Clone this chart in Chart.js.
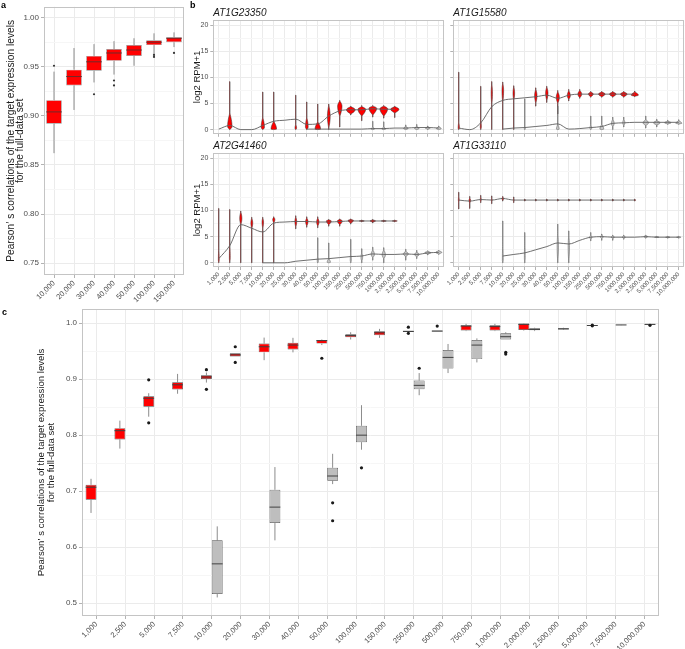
<!DOCTYPE html>
<html>
<head>
<meta charset="utf-8">
<script src="https://cdn.jsdelivr.net/npm/chart.js@4.4.1/dist/chart.umd.min.js"></script>
<style>
html, body { margin: 0; padding: 0; background: #fff; }
#fig { position: relative; width: 685px; height: 649px; overflow: hidden; font-family: "Liberation Sans", Arial, sans-serif; }
#fig canvas { position: absolute; }
.plab { position: absolute; font-weight: bold; font-size: 9px; line-height: 9px; color: #000; }
</style>
</head>
<body>
<div id="fig">
    <canvas id="ca" width="190" height="310" style="left:0;top:0"></canvas>
    <canvas id="cb1" width="256" height="140" style="left:190px;top:0"></canvas>
    <canvas id="cb2" width="245" height="140" style="left:440px;top:0"></canvas>
    <canvas id="cb3" width="256" height="167" style="left:190px;top:133px"></canvas>
    <canvas id="cb4" width="245" height="167" style="left:440px;top:133px"></canvas>
    <canvas id="cc" width="685" height="349" style="left:0;top:300px"></canvas>
    <div class="plab" style="left:1px;top:1px">a</div>
    <div class="plab" style="left:190px;top:1px">b</div>
    <div class="plab" style="left:2px;top:308px">c</div>
</div>
<script>
/* ==========================================================================
   Read depth vs. correlation figure — panels a (boxplot), b (violins), c (boxplot)
   ========================================================================== */

var n = null;

// ---- panel a : red boxes per read depth ----
var aLabels = ["10,000", "20,000", "30,000", "40,000", "50,000", "100,000", "150,000"];
var aQ1  = [0.892, 0.931, 0.946, 0.956, 0.961, 0.972, 0.975];
var aQ3  = [0.916, 0.947, 0.961, 0.968, 0.972, 0.977, 0.980];
var aMed = [0.904, 0.940, 0.955, 0.964, 0.967, 0.975, 0.979];
var aLo  = [0.862, 0.906, 0.934, 0.942, 0.951, 0.963, 0.970];
var aHi  = [0.945, 0.969, 0.973, 0.976, 0.979, 0.984, 0.985];
var aOut = [[0.951], [], [0.922], [0.936, 0.931], [], [0.962, 0.960], [0.964]];
var aTicks = [0.75, 0.80, 0.85, 0.90, 0.95, 1.00];

// ---- panel c : red vs grey boxes ----
var cLabels = ["1,000", "2,500", "5,000", "7,500", "10,000", "20,000", "30,000", "40,000", "50,000", "100,000",
    "150,000", "250,000", "500,000", "750,000", "1,000,000", "2,000,000", "2,500,000", "5,000,000", "7,500,000", "10,000,000"];
var cRedQ1  = [0.6845, 0.7923, 0.851, 0.8815, 0.9006, 0.9405, 0.948, 0.953, 0.9637, 0.975, 0.9786, 0.9845, 0.9851, 0.987, 0.987, 0.988, n, n, n, n];
var cRedQ3  = [0.7113, 0.8125, 0.8696, 0.8946, 0.907, 0.9464, 0.9637, 0.965, 0.970, 0.9804, 0.9857, 0.9865, 0.9869, 0.9964, 0.9964, 0.9994, n, n, n, n];
var cRedMed = [0.707, 0.808, 0.866, 0.890, 0.904, 0.9435, 0.958, 0.961, 0.969, 0.978, 0.983, 0.9855, 0.986, 0.995, 0.994, 0.998, n, n, n, n];
var cRedLo  = [0.661, 0.776, 0.833, 0.874, 0.894, 0.9405, 0.934, 0.948, 0.961, 0.971, 0.974, 0.9845, 0.9851, 0.986, 0.986, 0.987, n, n, n, n];
var cRedHi  = [0.722, 0.826, 0.875, 0.9095, 0.912, 0.9464, 0.9744, 0.974, 0.971, 0.984, 0.990, 0.9865, 0.9869, 0.999, 0.999, 1.000, n, n, n, n];
var cRedOut = [[], [], [0.899, 0.822], [], [0.917, 0.882], [0.958, 0.930], [], [], [0.9375], [], [], [0.993, 0.982], [0.995], [], [], [], [], [], [], []];

var cGreyQ1  = [n, n, n, n, 0.516, n, 0.6429, n, 0.7185, 0.7875, n, 0.882, 0.919, 0.936, 0.971, 0.9875, 0.989, 0.995, 0.9968, 0.9975];
var cGreyQ3  = [n, n, n, n, 0.612, n, 0.7024, n, 0.7417, 0.8167, n, 0.8976, 0.952, 0.970, 0.982, 0.991, 0.991, 0.997, 0.9972, 0.9985];
var cGreyMed = [n, n, n, n, 0.570, n, 0.6714, n, 0.727, 0.800, n, 0.889, 0.939, 0.961, 0.976, 0.989, 0.990, 0.996, 0.997, 0.998];
var cGreyLo  = [n, n, n, n, 0.510, n, 0.612, n, 0.7125, 0.774, n, 0.8714, 0.911, 0.930, 0.971, 0.986, 0.988, 0.994, 0.9965, 0.997];
var cGreyHi  = [n, n, n, n, 0.637, n, 0.743, n, 0.7667, 0.8536, n, 0.911, 0.963, 0.973, 0.984, 0.992, 0.992, 0.998, 0.9975, 0.999];
var cGreyOut = [[], [], [], [], [], [], [], [], [0.679, 0.647], [0.7417], [], [0.9196], [], [], [0.948, 0.945], [], [], [0.9968, 0.9955], [], [0.9964]];
var cTicks = [0.5, 0.6, 0.7, 0.8, 0.9, 1.0];

// ---- panel b : expression per read depth, four genes ----
var bLabels = ["1,000", "2,500", "5,000", "7,500", "10,000", "20,000", "25,000", "30,000", "40,000", "50,000", "100,000",
    "150,000", "250,000", "500,000", "750,000", "1000,000", "2,000,000", "2,500,000", "5,000,000", "7,500,000", "10,000,000"];
var bTicks = [0, 5, 10, 15, 20];
var bGenes = ["AT1G23350", "AT1G15580", "AT2G41460", "AT1G33110"];

// line through each series (log2 RPM+1)
var redLine1 = [0.1, 0.8, 0, 0, 0.8, 1.6, 1.8, 2.0, 1.0, 1.1, 2.6, 3.6, 3.8, 3.8, 4.0, 3.9, 3.9];
var greyLine1 = [n, n, n, n, n, n, n, n, 0.1, 0.1, 0.1, 0.1, 0.1, 0.1, 0.2, 0.2, 0.3, 0.3, 0.4, 0.4, 0.3];
var redLine2 = [0.3, 0, 1.3, 4.4, 5.6, 5.9, 6.1, 6.3, 6.6, 6.0, 6.6, 6.8, 6.8, 6.8, 6.8, 6.8, 6.8];
var greyLine2 = [n, n, n, n, 0.1, 0.3, 0.4, 0.6, 0.8, 1.1, 0.1, 0.2, 0.4, 0.6, 1.2, 1.3, 1.4, 1.4, 1.4, 1.4, 1.4];
var redLine3 = [0.8, 3.3, 7.3, 6.6, 5.9, 7.6, 7.8, 7.9, 7.9, 7.8, 7.8, 7.9, 8.0, 8.0, 8.0, 8.0, 8.0];
var greyLine3 = [n, n, n, n, 0, 0, 0, 0.3, 0.5, 0.7, 0.8, 1.0, 1.2, 1.3, 1.7, 1.6, 1.6, 1.7, 1.6, 1.9, 2.0];
var redLine4 = [12.0, 11.8, 12.1, 12.0, 12.3, 12.0, 12.0, 12.0, 12.0, 12.0, 12.0, 12.0, 12.0, 12.0, 12.0, 12.0, 12.0];
var greyLine4 = [n, n, n, n, 1.3, 1.6, 1.9, 2.5, 3.1, 3.8, 3.6, 4.3, 4.9, 5.0, 4.9, 4.9, 4.9, 5.0, 4.9, 4.9, 4.9];

// violins: [min, body low, widest, body high, max, relative width]
var redViol1 = [n, [0, 0, 0.6, 3.2, 9.2, 0.4], n, n, [0, 0, 0.4, 2.4, 7.2, 0.3], [0, 0, 0.1, 1.6, 7.2, 0.5], n,
    [0, 0, 0.3, 1.0, 6.6, 0.15], [0, 0, 0.5, 2.4, 5.3, 0.25], [0, 0, 0.1, 1.5, 4.9, 0.5], [0, 0.2, 2.5, 4.8, 4.9, 0.25],
    [0.5, 2.5, 4.5, 5.5, 5.6, 0.4], [2.8, 3.0, 3.8, 4.4, 4.5, 0.8], [1.7, 2.6, 3.9, 4.4, 4.6, 0.7],
    [2.4, 2.8, 4.1, 4.5, 4.6, 0.7], [2.2, 2.6, 4.0, 4.5, 4.6, 0.7], [2.3, 3.2, 3.9, 4.4, 4.5, 0.75]];
var greyViol1 = [n, n, n, n, n, n, n, n, n, n, n, n, n, n, [0, 0, 0.1, 0.5, 1.6, 0.3], [0, 0, 0.1, 0.5, 1.5, 0.35], n,
    [0, 0, 0.2, 0.6, 0.9, 0.4], [0, 0, 0.2, 0.6, 1.0, 0.4], [0, 0.1, 0.3, 0.5, 0.7, 0.45], [0, 0, 0.2, 0.5, 0.7, 0.45]];
var redViol2 = [[0, 0, 0.3, 1.5, 11.0, 0.12], n, [0, 0, 0.5, 2.0, 8.3, 0.1], [0, 4.5, 7.0, 9.0, 9.2, 0.12],
    [0, 5.0, 7.5, 9.0, 9.1, 0.15], [0, 5.5, 7.0, 8.3, 8.4, 0.15], n, [4.5, 5.0, 6.5, 7.8, 8.0, 0.22],
    [5.2, 5.5, 7.0, 8.2, 8.3, 0.22], [3.0, 5.0, 6.2, 7.3, 7.5, 0.28], [5.5, 5.8, 6.5, 7.5, 7.7, 0.28],
    [6.0, 6.1, 6.8, 7.5, 7.7, 0.35], [6.2, 6.3, 6.8, 7.2, 7.3, 0.45], [6.2, 6.3, 6.8, 7.2, 7.3, 0.6],
    [6.2, 6.3, 6.8, 7.2, 7.3, 0.6], [6.2, 6.3, 6.8, 7.2, 7.3, 0.6], [6.3, 6.4, 6.6, 7.2, 7.4, 0.65]];
var greyViol2 = [n, n, n, n, n, n, [0, 0, 0.1, 0.5, 5.9, 0.1], n, n, [0, 0, 0.1, 1.0, 4.5, 0.25], n, n,
    [0, 0, 0.2, 1.0, 2.6, 0.15], [0, 0, 0.1, 1.0, 2.6, 0.35], [0, 0.5, 1.2, 2.0, 2.4, 0.25], [0.5, 0.8, 1.3, 2.0, 2.4, 0.2], n,
    [0.3, 0.8, 1.3, 1.9, 2.6, 0.5], [0.5, 0.9, 1.3, 1.7, 2.0, 0.6], [1.0, 1.1, 1.3, 1.6, 1.8, 0.6], [1.0, 1.1, 1.2, 1.7, 1.9, 0.55]];
var redViol3 = [[0, 0, 0.5, 3.0, 10.4, 0.08], [0, 0, 1.0, 4.0, 10.2, 0.08], [0, 7.2, 8.5, 9.8, 9.9, 0.2],
    [0, 6.5, 7.6, 8.6, 8.7, 0.17], [0, 6.5, 7.8, 8.6, 8.7, 0.14], [0, 7.6, 8.3, 8.7, 8.8, 0.2], n,
    [6.5, 6.8, 7.9, 8.8, 9.0, 0.17], [6.8, 7.0, 7.9, 8.6, 8.8, 0.22], [6.7, 7.0, 7.8, 8.6, 8.8, 0.22],
    [7.0, 7.3, 8.0, 8.2, 8.3, 0.45], [7.0, 7.3, 8.0, 8.3, 8.4, 0.45], [7.4, 7.6, 8.1, 8.3, 8.4, 0.5],
    [7.8, 7.9, 8.0, 8.1, 8.2, 0.45], [7.6, 7.8, 8.0, 8.2, 8.3, 0.5], [7.8, 7.9, 8.0, 8.1, 8.2, 0.45], [7.8, 7.9, 8.0, 8.1, 8.2, 0.45]];
var greyViol3 = [n, n, n, n, n, n, n, n, n, [0, 0, 0.3, 1.5, 4.8, 0.1], [0, 0, 0.1, 0.8, 3.8, 0.3], n,
    [0, 0, 0.5, 2.0, 4.5, 0.1], [0, 0.3, 1.0, 2.0, 2.7, 0.15], [0.5, 1.0, 1.6, 2.5, 3.0, 0.3], [0, 0.8, 1.5, 2.5, 2.9, 0.3], n,
    [0.5, 1.2, 1.7, 2.2, 2.6, 0.45], [0.8, 1.2, 1.6, 2.0, 2.4, 0.45], [1.5, 1.7, 1.9, 2.2, 2.3, 0.55], [1.6, 1.7, 2.0, 2.3, 2.4, 0.55]];
var redViol4 = [[10.3, 11.5, 12.0, 12.8, 13.5, 0.08], [10.4, 11.4, 11.9, 12.4, 12.7, 0.15], [11.5, 11.7, 12.1, 12.5, 12.9, 0.1],
    [11.3, 11.6, 12.0, 12.4, 12.8, 0.08], [11.8, 12.0, 12.3, 12.5, 12.7, 0.2], [11.5, 11.7, 12.0, 12.3, 12.6, 0.08],
    [11.8, 11.9, 12.0, 12.1, 12.2, 0.15], [11.8, 11.9, 12.0, 12.1, 12.2, 0.15], [11.8, 11.9, 12.0, 12.1, 12.2, 0.15],
    [11.8, 11.9, 12.0, 12.1, 12.2, 0.15], [11.8, 11.9, 12.0, 12.1, 12.2, 0.15], [11.8, 11.9, 12.0, 12.1, 12.2, 0.15],
    [11.8, 11.9, 12.0, 12.1, 12.2, 0.15], [11.8, 11.9, 12.0, 12.1, 12.2, 0.15], [11.8, 11.9, 12.0, 12.1, 12.2, 0.15],
    [11.8, 11.9, 12.0, 12.1, 12.2, 0.15], [11.8, 11.9, 12.0, 12.1, 12.2, 0.15]];
var greyViol4 = [n, n, n, n, [0, 0, 0.5, 4.0, 8.0, 0.08], n, [0, 0, 1.0, 4.0, 5.8, 0.08], n, n,
    [0, 0, 3.0, 6.0, 7.4, 0.12], [0, 0, 3.0, 5.5, 6.1, 0.12], n, [4.2, 4.5, 4.9, 5.3, 5.8, 0.2],
    [4.3, 4.6, 5.0, 5.3, 5.5, 0.25], [4.3, 4.6, 4.9, 5.2, 5.3, 0.25], [4.5, 4.6, 4.9, 5.2, 5.3, 0.25], n,
    [4.7, 4.8, 5.0, 5.2, 5.3, 0.35], [4.8, 4.85, 4.9, 5.0, 5.1, 0.4], [4.7, 4.8, 4.9, 5.0, 5.1, 0.4], [4.7, 4.8, 4.9, 5.0, 5.1, 0.4]];

var RED = "#FF0000";
var GREY = "#BEBEBE";
var FONT = '"Liberation Sans", Arial, sans-serif';
var PEARSON = ["Pearson\u2019 s correlations of the target expression levels", "for the full-data set"];

Chart.defaults.font.family = FONT;

function zipBox(q1, q3) {
    return q1.map(function(v, i) { return v == null ? null : [v, q3[i]]; });
}

// linear y axis with ggplot-like minor grid lines and fixed width
function yAxis(min, max, major, dec, width, tickSize, showLabels, title) {
    var step = major[1] - major[0];
    var all = major.slice();
    for (var v = major[0] - step / 2; v <= max; v += step) {
        if (v >= min) all.push(+v.toFixed(6));
    }
    all.sort(function(a, b) { return a - b; });
    function isMajor(val) {
        return major.some(function(m) { return Math.abs(m - val) < 1e-7; });
    }
    return {
        type: "linear", min: min, max: max,
        afterBuildTicks: function(s) { s.ticks = all.map(function(x) { return { value: x }; }); },
        afterFit: function(s) { s.width = width; },
        border: { display: false },
        grid: {
            color: function(c) { return c.tick && isMajor(c.tick.value) ? "#EBEBEB" : "#F6F6F6"; },
            lineWidth: 1, tickLength: 3,
            tickColor: function(c) { return c.tick && isMajor(c.tick.value) ? "#B3B3B3" : "rgba(0,0,0,0)"; }
        },
        ticks: {
            autoSkip: false, padding: 2, color: "#4D4D4D", font: { size: tickSize },
            callback: function(val) { return showLabels && isMajor(val) ? val.toFixed(dec) : ""; }
        },
        title: title ? {
            display: true, text: title.text, color: "#1A1A1A",
            font: { size: title.size, lineHeight: title.lh },
            padding: { top: title.pad, bottom: 0 }
        } : { display: false }
    };
}

function xAxis(labels, fontSize, height, showLabels) {
    return {
        type: "category", labels: labels, offset: true,
        afterFit: function(s) { s.height = height; },
        border: { display: false },
        grid: { offset: false, color: "#EBEBEB", lineWidth: 1, tickLength: 3, tickColor: "#B3B3B3" },
        ticks: {
            autoSkip: false, maxRotation: 45, minRotation: 45, padding: 1,
            color: "#4D4D4D", font: { size: fontSize },
            callback: function(v, i) { return showLabels ? labels[i] : ""; }
        }
    };
}

function framePlugin(color) {
    return {
        id: "frame",
        afterDraw: function(chart) {
            var a = chart.chartArea, ctx = chart.ctx;
            ctx.save();
            ctx.strokeStyle = color;
            ctx.lineWidth = 1;
            ctx.strokeRect(Math.round(a.left) + 0.5, Math.round(a.top) + 0.5,
                Math.round(a.right - a.left) - 1, Math.round(a.bottom - a.top) - 1);
            ctx.restore();
        }
    };
}

// whiskers under the boxes, medians and outliers on top
function boxPlugin(series, st) {
    return {
        id: "boxWhisk",
        beforeDatasetsDraw: function(chart) {
            var ctx = chart.ctx, ys = chart.scales.y;
            ctx.save();
            ctx.strokeStyle = st.whisker;
            ctx.lineWidth = st.whiskerWidth;
            series.forEach(function(s, di) {
                chart.getDatasetMeta(di).data.forEach(function(bar, i) {
                    if (s.med[i] == null) return;
                    var x = bar.x;
                    ctx.beginPath();
                    ctx.moveTo(x, ys.getPixelForValue(s.hi[i]));
                    ctx.lineTo(x, ys.getPixelForValue(s.q3[i]));
                    ctx.moveTo(x, ys.getPixelForValue(s.q1[i]));
                    ctx.lineTo(x, ys.getPixelForValue(s.lo[i]));
                    ctx.stroke();
                });
            });
            ctx.restore();
        },
        afterDatasetsDraw: function(chart) {
            var ctx = chart.ctx, ys = chart.scales.y;
            ctx.save();
            series.forEach(function(s, di) {
                chart.getDatasetMeta(di).data.forEach(function(bar, i) {
                    if (s.med[i] == null) return;
                    var x = bar.x, hw = bar.width / 2, y = ys.getPixelForValue(s.med[i]);
                    ctx.strokeStyle = st.median;
                    ctx.lineWidth = st.medianWidth;
                    ctx.beginPath();
                    ctx.moveTo(x - hw, y);
                    ctx.lineTo(x + hw, y);
                    ctx.stroke();
                    ctx.fillStyle = st.outlier;
                    (s.out[i] || []).forEach(function(o) {
                        ctx.beginPath();
                        ctx.arc(x, ys.getPixelForValue(o), st.r, 0, Math.PI * 2);
                        ctx.fill();
                    });
                });
            });
            ctx.restore();
        }
    };
}

// violin bodies drawn from the category / linear scales
function violinPlugin(sets) {
    return {
        id: "violins",
        beforeDatasetsDraw: function(chart) {
            var ctx = chart.ctx, xs = chart.scales.x, ys = chart.scales.y, a = chart.chartArea;
            var band = xs.getPixelForValue(1) - xs.getPixelForValue(0);
            ctx.save();
            ctx.beginPath();
            ctx.rect(a.left, a.top, a.right - a.left, a.bottom - a.top);
            ctx.clip();
            sets.forEach(function(set) {
                set.data.forEach(function(v, i) {
                    if (!v) return;
                    var x = xs.getPixelForValue(i), w = v[5] * band / 2;
                    var prof = [[v[0], 0]], k, t;
                    for (k = 0; k <= 8; k++) {
                        t = k / 8;
                        prof.push([v[1] + (v[2] - v[1]) * t, Math.sin(t * Math.PI / 2)]);
                    }
                    for (k = 1; k <= 8; k++) {
                        t = k / 8;
                        prof.push([v[2] + (v[3] - v[2]) * t, Math.cos(t * Math.PI / 2)]);
                    }
                    prof.push([v[4], 0]);
                    ctx.beginPath();
                    prof.forEach(function(p, j) {
                        var px = x + Math.max(0.2, p[1] * w), py = ys.getPixelForValue(p[0]);
                        if (j === 0) ctx.moveTo(px, py); else ctx.lineTo(px, py);
                    });
                    for (k = prof.length - 1; k >= 0; k--) {
                        ctx.lineTo(x - Math.max(0.2, prof[k][1] * w), ys.getPixelForValue(prof[k][0]));
                    }
                    ctx.closePath();
                    ctx.fillStyle = set.fill;
                    ctx.fill();
                    ctx.strokeStyle = set.stroke;
                    ctx.lineWidth = 0.5;
                    ctx.stroke();
                });
            });
            ctx.restore();
        }
    };
}

var baseOpts = { responsive: false, animation: false, events: [] };

// ---------------- panel a ----------------
new Chart(document.getElementById("ca"), {
    type: "bar",
    data: {
        labels: aLabels,
        datasets: [{
            data: zipBox(aQ1, aQ3), backgroundColor: RED, borderColor: "#8C8C8C", borderWidth: 0.7,
            borderSkipped: false, barPercentage: 0.78, categoryPercentage: 1
        }]
    },
    options: Object.assign({}, baseOpts, {
        layout: { padding: { left: 0, top: 2, right: 6, bottom: 0 } },
        plugins: { legend: { display: false }, tooltip: { enabled: false } },
        scales: {
            x: xAxis(aLabels, 7.5, 35, true),
            y: yAxis(0.738, 1.011, aTicks, 2, 44, 8, true, { text: PEARSON, size: 10.2, lh: 0.95, pad: 6 })
        }
    }),
    plugins: [
        boxPlugin([{ q1: aQ1, q3: aQ3, med: aMed, lo: aLo, hi: aHi, out: aOut }],
            { whisker: "#8C8C8C", whiskerWidth: 1, median: "#6E2A2A", medianWidth: 1, outlier: "#333", r: 1.1 }),
        framePlugin("#C4C4C4")
    ]
});

// ---------------- panel b ----------------
function facet(id, gene, showX, showY, yw, xh, padRight, redLine, greyLine, redViol, greyViol) {
    new Chart(document.getElementById(id), {
        type: "line",
        data: {
            labels: bLabels,
            datasets: [
                { data: redLine, borderColor: "#5E5E5E", borderWidth: 0.9, pointRadius: 0, cubicInterpolationMode: "monotone", spanGaps: true },
                { data: greyLine, borderColor: "#5E5E5E", borderWidth: 0.9, pointRadius: 0, cubicInterpolationMode: "monotone", spanGaps: true }
            ]
        },
        options: Object.assign({}, baseOpts, {
            layout: { padding: { left: 0, top: 0, right: padRight, bottom: 0 } },
            plugins: {
                legend: { display: false }, tooltip: { enabled: false },
                title: {
                    display: true, text: gene, align: "start", fullSize: false, color: "#1A1A1A",
                    font: { size: 10, style: "italic", lineHeight: 1.2, weight: "normal" },
                    padding: { top: 7, bottom: 1 }
                }
            },
            scales: {
                x: xAxis(bLabels, 6, xh, showX),
                y: yAxis(-0.8, 21, bTicks, 0, yw, 7, showY,
                    showY ? { text: "log2 RPM+1", size: 9.5, lh: 1.2, pad: 2 } : null)
            }
        }),
        plugins: [
            violinPlugin([
                { data: redViol, fill: RED, stroke: "#2E2E2E" },
                { data: greyViol, fill: "#C6C6C6", stroke: "#505050" }
            ]),
            framePlugin("#C4C4C4")
        ]
    });
}

facet("cb1", bGenes[0], false, true, 23.3, 6, 1.7, redLine1, greyLine1, redViol1, greyViol1);
facet("cb2", bGenes[1], false, false, 13.3, 6, 0.7, redLine2, greyLine2, redViol2, greyViol2);
facet("cb3", bGenes[2], true, true, 23.3, 33, 1.7, redLine3, greyLine3, redViol3, greyViol3);
facet("cb4", bGenes[3], true, false, 13.3, 33, 0.7, redLine4, greyLine4, redViol4, greyViol4);

// ---------------- panel c ----------------
new Chart(document.getElementById("cc"), {
    type: "bar",
    data: {
        labels: cLabels,
        datasets: [
            { data: zipBox(cRedQ1, cRedQ3), backgroundColor: RED, borderColor: "#4A4A4A", borderWidth: 0.7,
              borderSkipped: false, barPercentage: 1, categoryPercentage: 0.75 },
            { data: zipBox(cGreyQ1, cGreyQ3), backgroundColor: GREY, borderColor: "#4A4A4A", borderWidth: 0.7,
              borderSkipped: false, barPercentage: 1, categoryPercentage: 0.75 }
        ]
    },
    options: Object.assign({}, baseOpts, {
        layout: { padding: { left: 0, top: 9, right: 26, bottom: 0 } },
        plugins: { legend: { display: false }, tooltip: { enabled: false } },
        scales: {
            x: xAxis(cLabels, 7.5, 33, true),
            y: yAxis(0.4768, 1.0255, cTicks, 1, 82, 8, true, { text: PEARSON, size: 9.6, lh: 1.0, pad: 37 })
        }
    }),
    plugins: [
        boxPlugin([
            { q1: cRedQ1, q3: cRedQ3, med: cRedMed, lo: cRedLo, hi: cRedHi, out: cRedOut },
            { q1: cGreyQ1, q3: cGreyQ3, med: cGreyMed, lo: cGreyLo, hi: cGreyHi, out: cGreyOut }
        ], { whisker: "#8C8C8C", whiskerWidth: 1, median: "#404040", medianWidth: 1, outlier: "#1A1A1A", r: 1.6 }),
        framePlugin("#C4C4C4")
    ]
});
</script>
</body>
</html>
